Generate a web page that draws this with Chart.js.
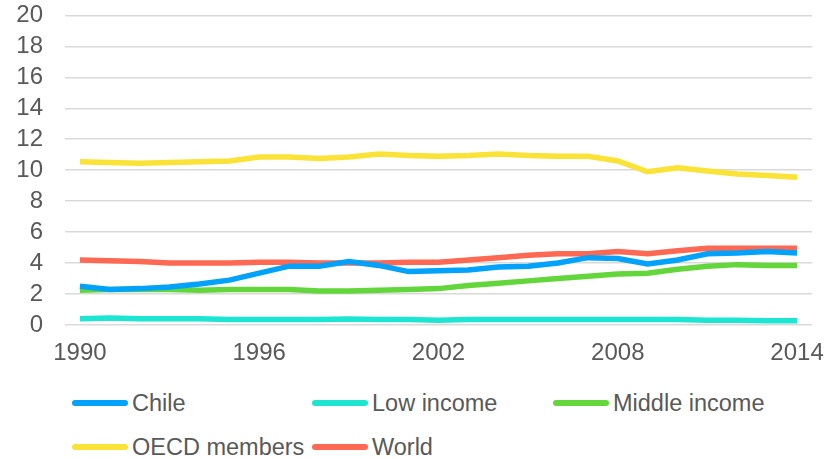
<!DOCTYPE html>
<html>
<head>
<meta charset="utf-8">
<script src="https://cdn.jsdelivr.net/npm/chart.js@4/dist/chart.umd.min.js"></script>
<style>
  body { margin: 0; background: #fff; font-family: "Liberation Sans", Arial, sans-serif; }
  #wrap { position: relative; width: 839px; height: 459px; overflow: hidden; }
  #box { position: absolute; left: 0; top: -21px; width: 839px; height: 391px; }
  .leg { position: absolute; display: flex; align-items: center; font-size: 23.5px; color: #595959; height: 30px; }
  .leg span.sw { display: inline-block; width: 56px; height: 6px; border-radius: 3px; margin-right: 4px; }
</style>
</head>
<body>
<div id="wrap">
  <div id="box"><canvas id="lineChart"></canvas></div>
  <div id="legend"></div>
</div>
<script>
var years = [];
for (var yr = 1990; yr <= 2014; yr++) { years.push(String(yr)); }

var chile = [2.5,2.3,2.35,2.45,2.65,2.9,3.35,3.8,3.8,4.1,3.85,3.45,3.5,3.55,3.75,3.8,4.0,4.35,4.3,3.95,4.2,4.6,4.65,4.75,4.65];
var lowIncome = [0.4,0.45,0.4,0.4,0.4,0.35,0.35,0.35,0.35,0.38,0.35,0.35,0.3,0.35,0.35,0.35,0.35,0.35,0.35,0.35,0.35,0.3,0.3,0.28,0.27];
var middleIncome = [2.25,2.3,2.3,2.3,2.25,2.3,2.3,2.3,2.2,2.2,2.25,2.3,2.35,2.55,2.7,2.85,3.0,3.15,3.3,3.35,3.6,3.8,3.9,3.85,3.85];
var oecd = [10.55,10.5,10.45,10.5,10.55,10.6,10.85,10.85,10.75,10.85,11.05,10.95,10.9,10.95,11.05,10.95,10.9,10.9,10.6,9.9,10.15,9.95,9.75,9.65,9.55];
var world = [4.2,4.15,4.1,4.0,4.0,4.0,4.05,4.05,4.0,4.0,4.0,4.05,4.05,4.2,4.35,4.5,4.6,4.6,4.75,4.6,4.8,4.95,4.95,4.95,4.95];

var seriesNames = ['Chile', 'Low income', 'Middle income', 'OECD members', 'World'];
var seriesColors = ['#00a2fb', '#1ce6d2', '#63d63b', '#fae236', '#ff6852'];
var seriesData = [chile, lowIncome, middleIncome, oecd, world];

var datasets = [];
for (var i = 0; i < seriesNames.length; i++) {
  datasets.push({
    label: seriesNames[i],
    data: seriesData[i],
    borderColor: seriesColors[i],
    backgroundColor: seriesColors[i],
    borderWidth: 5.5,
    pointRadius: 0,
    tension: 0
  });
}

var tickFont = { family: '"Liberation Sans", Arial, sans-serif', size: 24 };

var lineChart = new Chart(document.getElementById('lineChart'), {
  type: 'line',
  data: { labels: years, datasets: datasets },
  options: {
    responsive: true,
    maintainAspectRatio: false,
    animation: false,
    layout: { padding: { top: 0, right: 27, left: 0, bottom: 0 } },
    plugins: { legend: { display: false }, tooltip: { enabled: false } },
    scales: {
      x: {
        offset: true,
        grid: { display: false },
        border: { display: false },
        ticks: {
          color: '#595959', font: tickFont, autoSkip: false, maxRotation: 0, padding: 6,
          callback: function (v, idx) { return (idx % 6 === 0) ? years[idx] : null; }
        },
        afterFit: function (s) { s.height = 45; }
      },
      y: {
        min: 0, max: 20,
        grid: { color: '#d9d9d9', lineWidth: 1.5, drawTicks: false },
        border: { display: false },
        ticks: { stepSize: 2, autoSkip: false, color: '#595959', font: tickFont, padding: 22 },
        afterFit: function (s) { s.width = 65; }
      }
    }
  }
});

// legend in two rows like the original
var legPos = [[72, 403], [312, 403], [553, 403], [72, 447], [312, 447]];
var legHtml = '';
for (var j = 0; j < seriesNames.length; j++) {
  legHtml += '<div class="leg" style="left:' + legPos[j][0] + 'px;top:' + (legPos[j][1] - 15) + 'px">' +
    '<span class="sw" style="background:' + seriesColors[j] + '"></span>' + seriesNames[j] + '</div>';
}
document.getElementById('legend').innerHTML = legHtml;
</script>
</body>
</html>
